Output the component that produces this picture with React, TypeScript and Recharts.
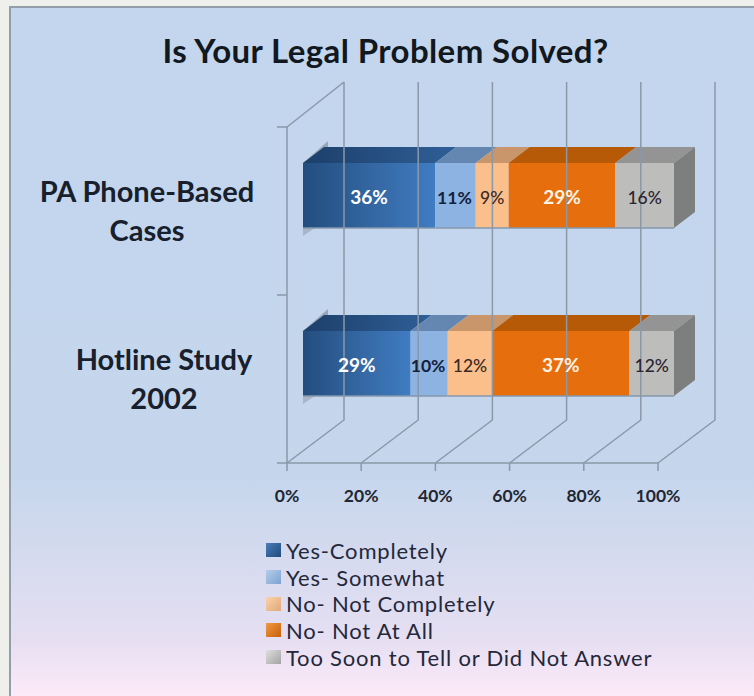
import { BarChart, Bar, XAxis, YAxis, ReferenceLine, LabelList, Legend } from "recharts";

const categories = [
  ["PA Phone-Based", "Cases"],
  ["Hotline Study", "2002"],
];
const seriesNames = ["Yes-Completely", "Yes- Somewhat", "No- Not Completely", "No- Not At All", "Too Soon to Tell or Did Not Answer"];
const yesCompletely = [36, 29];
const yesSomewhat = [11, 10];
const noNotCompletely = [9, 12];
const noNotAtAll = [29, 37];
const tooSoon = [16, 12];
const ticks = [0, 0.2, 0.4, 0.6, 0.8, 1];

const rows = categories.map((c, i) => ({
  name: c.join("|"),
  s0: yesCompletely[i],
  s1: yesSomewhat[i],
  s2: noNotCompletely[i],
  s3: noNotAtAll[i],
  s4: tooSoon[i],
}));

const faceFills = ["url(#faceBlue)", "#8db3e2", "#fbbf8c", "#e66e0c", "#bdbdbb"];
const topFills = ["url(#topBlue)", "#6487b2", "#c8966a", "#b65a08", "#949494"];
const legendFills = [
  "linear-gradient(135deg,#4a7db8,#1f4a7c)",
  "linear-gradient(135deg,#b5cdea,#7ba2d0)",
  "linear-gradient(135deg,#fbd3ab,#e0a878)",
  "linear-gradient(135deg,#f09a45,#c85f08)",
  "linear-gradient(135deg,#dedede,#a3a3a3)",
];
const labelColors = ["#ffffff", "#14213d", "#3a2a25", "#fff3e6", "#2b2430"];

const FONT = "Lato, Carlito, 'Open Sans', sans-serif";
const LINE = "#8a98a8";

// front of the bar sits off the floor edge, the faces go back up and right
const OFF_X = 16;
const OFF_Y = -16;
const BAR_DX = 21;
const BAR_DY = 16;
const WALL_DX = 57;
const WALL_DY = 43;
const WALL_H = 338;

function barShape(i: number) {
  return function Segment(props: any) {
    const x = props.x + OFF_X;
    const y = props.y + OFF_Y;
    const { width: w, height: h } = props;
    return (
      <g>
        {i === 0 && (
          <>
            <polygon points={`${x},${y} ${x + BAR_DX + 4},${y - BAR_DY - 6} ${x + BAR_DX + 4},${y - BAR_DY} ${x + 2},${y + 2}`} fill="#98a5b8" />
            <polygon points={`${x},${y + h} ${x + 12},${y + h} ${x},${y + h + 8}`} fill="#a9b6c8" />
          </>
        )}
        <polygon points={`${x},${y} ${x + w},${y} ${x + w + BAR_DX},${y - BAR_DY} ${x + BAR_DX},${y - BAR_DY}`} fill={topFills[i]} />
        <rect x={x} y={y} width={w} height={h} fill={faceFills[i]} />
        {i === 4 && (
          <polygon points={`${x + w},${y} ${x + w + BAR_DX},${y - BAR_DY} ${x + w + BAR_DX},${y + h - BAR_DY} ${x + w},${y + h}`} fill="#7d7f7e" />
        )}
        <line x1={x} x2={x + w} y1={y + h} y2={y + h} stroke="#8497ad" strokeWidth={1.5} />
      </g>
    );
  };
}

function segmentLabel(i: number) {
  return function SegmentLabel(props: any) {
    const { x, y, width, height, value } = props;
    return (
      <text
        x={x + OFF_X + width / 2 - (i === 1 ? 1 : 0)}
        y={y + OFF_Y + height / 2 + 4}
        textAnchor="middle"
        dominantBaseline="middle"
        fontFamily={FONT}
        fontSize={i === 0 || i === 3 ? 19 : 17.5}
        fontWeight={i === 0 || i === 1 || i === 3 ? 700 : 500}
        fill={labelColors[i]}
      >
        {value}%
      </text>
    );
  };
}

function WallLine(props: any) {
  const { x1, y1, y2, first } = props;
  const bottom = Math.max(y1, y2);
  const top = Math.min(y1, y2);
  const px = WALL_DX;
  const py = WALL_DY;
  return (
    <g stroke={LINE} strokeWidth={1.5} fill="none">
      <path d={`M${x1},${bottom} L${x1 + px},${bottom - py} L${x1 + px},${bottom - py - WALL_H}`} />
      <line x1={x1} x2={x1} y1={bottom} y2={bottom + 8} />
      {first && (
        <>
          <line x1={x1} x2={x1} y1={top} y2={bottom} />
          <line x1={x1} x2={x1 + px} y1={top} y2={top - py - 2} />
          {[0, 0.5, 1].map((f) => (
            <line key={f} x1={x1 - 10} x2={x1} y1={top + (bottom - top) * f} y2={top + (bottom - top) * f} />
          ))}
        </>
      )}
    </g>
  );
}

function CategoryTick({ y, payload, index }: any) {
  const lines = String(payload.value).split("|");
  const cx = index === 0 ? 147 : 164;
  return (
    <text textAnchor="middle" fontFamily={FONT} fontWeight={700} fontSize={29} fill="#17202c">
      <tspan x={cx} y={y - 9}>{lines[0]}</tspan>
      <tspan x={cx} y={y + 30}>{lines[1]}</tspan>
    </text>
  );
}

function ChartLegend({ payload }: any) {
  return (
    <div style={{ fontFamily: FONT, fontSize: 22, letterSpacing: 0.8, color: "#23283a" }}>
      {(payload || []).map((p: any, i: number) => (
        <div key={p.value} style={{ display: "flex", alignItems: "center", height: 26.7, whiteSpace: "nowrap" }}>
          <span style={{ width: 15, height: 14, marginRight: 5, background: legendFills[i], flex: "none" }} />
          {p.value}
        </div>
      ))}
    </div>
  );
}

export default function App() {
  return (
    <div style={{ position: "absolute", left: 0, top: 0, width: 754, height: 696, background: "#efefec", overflow: "hidden" }}>
      <div
        style={{
          position: "absolute",
          left: 9,
          top: 6,
          width: 745,
          height: 690,
          boxSizing: "border-box",
          borderLeft: "2px solid #939eab",
          borderTop: "2px solid #939eab",
          background: "linear-gradient(180deg,#c3d6ee 0%,#c5d6ec 68%,#e6dff2 92%,#fdeaf9 100%)",
        }}
      />
      <div
        style={{
          position: "absolute",
          left: 0,
          top: 30,
          width: 771,
          textAlign: "center",
          fontFamily: FONT,
          fontWeight: 700,
          fontSize: 33,
          letterSpacing: 0.4,
          lineHeight: "40px",
          color: "#111820",
        }}
      >
        Is Your Legal Problem Solved?
      </div>
      <div style={{ position: "absolute", left: 0, top: 0 }}>
        <BarChart
          width={754}
          height={696}
          data={rows}
          layout="vertical"
          stackOffset="expand"
          barSize={65}
          margin={{ top: 127, right: 96, bottom: 193, left: 0 }}
        >
          <defs>
            <linearGradient id="faceBlue" x1="0" y1="0" x2="1" y2="0">
              <stop offset="0%" stopColor="#234d7e" />
              <stop offset="55%" stopColor="#3568a4" />
              <stop offset="100%" stopColor="#3f7cc2" />
            </linearGradient>
            <linearGradient id="topBlue" x1="0" y1="0" x2="1" y2="0">
              <stop offset="0%" stopColor="#1d3f6a" />
              <stop offset="100%" stopColor="#2f5f97" />
            </linearGradient>
          </defs>
          <XAxis
            type="number"
            domain={[0, 1]}
            ticks={ticks}
            tickFormatter={(v: number) => `${Math.round(v * 100)}%`}
            axisLine={{ stroke: LINE, strokeWidth: 1.5 }}
            tickLine={false}
            tickMargin={21}
            height={40}
            interval={0}
            tick={{ fontFamily: FONT, fontWeight: 700, fontSize: 17.5, fill: "#1f2733" }}
          />
          <YAxis type="category" dataKey="name" width={287} axisLine={false} tickLine={false} tick={<CategoryTick />} interval={0} />
          {ticks.map((t, i) => (
            <ReferenceLine key={t} x={t} shape={(p: any) => <WallLine {...p} first={i === 0} />} />
          ))}
          <Legend
            layout="vertical"
            align="center"
            verticalAlign="middle"
            itemSorter={null}
            content={<ChartLegend />}
            wrapperStyle={{ left: 266, top: 537, width: 450 }}
          />
          {seriesNames.map((name, i) => (
            <Bar key={name} dataKey={`s${i}`} name={name} stackId="a" fill="#3568a4" shape={barShape(i)} isAnimationActive={false}>
              <LabelList dataKey={`s${i}`} content={segmentLabel(i)} />
            </Bar>
          ))}
        </BarChart>
      </div>
    </div>
  );
}
